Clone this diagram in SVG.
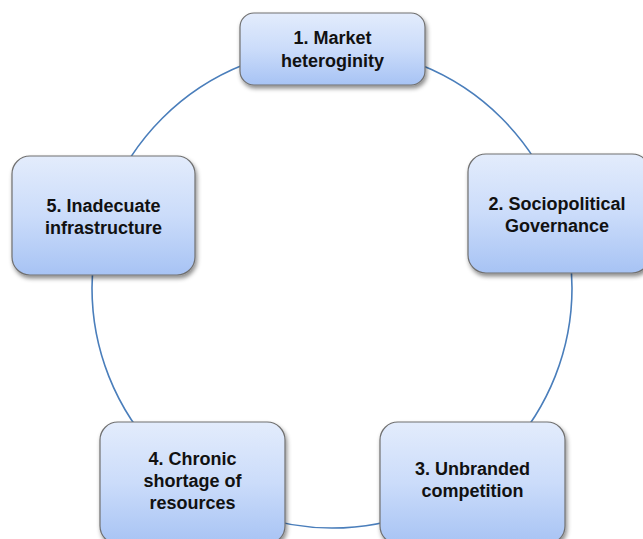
<svg xmlns="http://www.w3.org/2000/svg" width="643" height="539" viewBox="0 0 643 539">
<defs>
<linearGradient id="g" x1="0" y1="0" x2="0" y2="1">
<stop offset="0" stop-color="#e3ecfc"/>
<stop offset="0.5" stop-color="#cbdcfa"/>
<stop offset="1" stop-color="#a7c3f4"/>
</linearGradient>
<filter id="sh" x="-20%" y="-20%" width="140%" height="150%">
<feDropShadow dx="1.5" dy="3" stdDeviation="2.2" flood-color="#000" flood-opacity="0.45"/>
</filter>
<style>
.box{fill:url(#g);stroke:#707070;stroke-width:1.2;filter:url(#sh)}
.t{font-family:"Liberation Sans",Arial,sans-serif;font-weight:bold;font-size:18px;fill:#111;text-anchor:middle}
.c{fill:none;stroke:#4a7ebb;stroke-width:1.6}
</style>
</defs>
<rect width="643" height="539" fill="#fff"/>
<g id="connectors">
<circle class="c" cx="332" cy="288" r="240"/>
</g>
<g id="n1">
<rect class="box" x="240" y="13" width="185" height="72" rx="14"/>
<text class="t" x="332.5" y="44">1. Market</text>
<text class="t" x="332.5" y="67">heteroginity</text>
</g>
<g id="n2">
<rect class="box" x="468" y="154" width="182" height="119" rx="18"/>
<text class="t" x="557" y="210">2. Sociopolitical</text>
<text class="t" x="557" y="232">Governance</text>
</g>
<g id="n3">
<rect class="box" x="380" y="422" width="185" height="122" rx="18"/>
<text class="t" x="472.5" y="475">3. Unbranded</text>
<text class="t" x="472.5" y="497">competition</text>
</g>
<g id="n4">
<rect class="box" x="100" y="422" width="185" height="122" rx="18"/>
<text class="t" x="192.5" y="465">4. Chronic</text>
<text class="t" x="192.5" y="487">shortage of</text>
<text class="t" x="192.5" y="509">resources</text>
</g>
<g id="n5">
<rect class="box" x="12" y="156" width="183" height="119" rx="18"/>
<text class="t" x="103.5" y="212">5. Inadecuate</text>
<text class="t" x="103.5" y="234">infrastructure</text>
</g>
</svg>
